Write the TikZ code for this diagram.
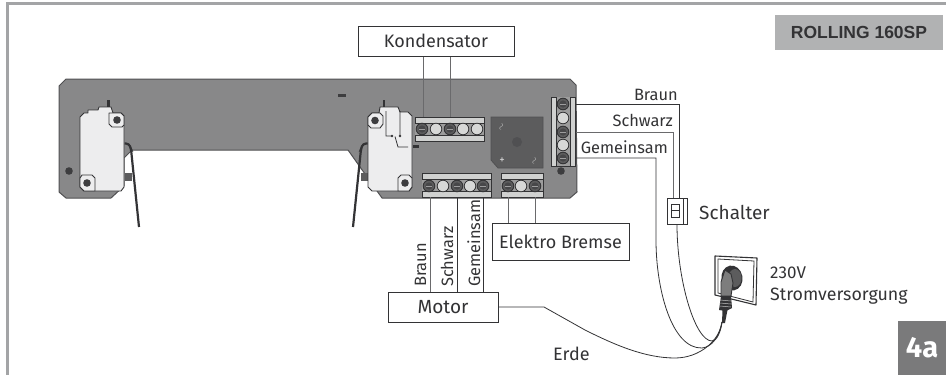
\documentclass[tikz,border=0pt]{standalone}
\usepackage{fontspec}
\setmainfont{Fira Sans}
\newfontfamily\badgefont{Liberation Sans}
\definecolor{frame}{HTML}{A3A4A6}
\definecolor{board}{HTML}{888889}
\definecolor{edge}{HTML}{505052}
\definecolor{swbody}{HTML}{EDEDEE}
\definecolor{strip}{HTML}{D0D1D0}
\definecolor{darkblk}{HTML}{5C5C5D}
\definecolor{ink}{HTML}{333335}
\tikzset{
  wire/.style={draw=ink,line width=0.8pt},
  graywire/.style={draw=edge!85,line width=1pt},
  labelbox/.style={draw=ink,line width=1pt,fill=white,inner sep=0pt,text=ink,font=\fontsize{18}{18}\selectfont},
  txt/.style={text=ink,inner sep=0pt,font=\fontsize{16.4}{17}\selectfont},
  hole/.style={fill=ink!95,draw=none},
  swpart/.style={fill=swbody,draw=ink,line width=0.9pt,line join=round},
}
\newcommand{\termbody}[4]{%
  \fill[strip,draw=ink,line width=0.6pt] (#1,#2) rectangle (#3,#4);
  \fill[darkblk!45!strip] (#1,#2+6) rectangle (#3,#4-6);
  \draw[ink,line width=0.8pt] (#1,#2+6) -- (#3,#2+6) (#1,#4-6) -- (#3,#4-6);
}
\newcommand{\darkscrew}[2]{%
  \fill[darkblk,draw=ink,line width=0.9pt] (#1,#2) circle (5.8);
  \fill[ink!90] (#1,#2) circle (3.6);
  \draw[darkblk!60!white,line width=0.4pt] (#1-3,#2) -- (#1+3,#2);
}
\newcommand{\lightscrew}[2]{%
  \fill[strip!85,draw=ink,line width=0.8pt] (#1,#2) circle (5.8);
}
\begin{document}
\begin{tikzpicture}[x=1pt,y=-1pt,line cap=butt]
\useasboundingbox (0,0) rectangle (946,375);
% frame
\draw[frame,line width=3pt] (7,375) -- (7,3.2) -- (946,3.2);
% board
\fill[board,draw=edge,line width=1pt,line join=round]
  (66,79) -- (570,79) -- (576,85) -- (577,192) -- (570,198) -- (382,198) -- (348,150)
  -- (132,150) -- (124,158) -- (124,186) -- (111,198) -- (66,198) -- (59,192) -- (59,86) -- cycle;
\fill[hole] (338,94) rectangle (346,97);
\fill[hole] (69,171) circle (3.8);
\fill[hole] (561,171) circle (3.8);
% switch 1
\fill[ink] (107,100) rectangle (109.5,107);
\fill[ink!80] (125,173) rectangle (132,181);
\draw[swpart] (84,113) -- (88,113) -- (88,110) -- (98,110) -- (99,107) -- (111,107) -- (113,113)
  -- (121,113) -- (124,116) -- (124,187) -- (121,191) -- (84,191) -- (80,187) -- (80,117) -- cycle;
\draw[swpart] (109,113) -- (121,113) -- (124,116) -- (124,125) -- (122,127) -- (112,127) -- (109,124) -- cycle;
\draw[swpart] (80,178) -- (82,175) -- (92,175) -- (95,178) -- (95,191) -- (84,191) -- (80,187) -- cycle;
\fill[hole] (117,120) circle (3.8);
\fill[hole] (87,183) circle (3.8);
\draw[ink,line width=2.2pt,rounded corners=3pt] (124.5,143.5) -- (129,143.5) -- (131,149) -- (139,227);
% switch 2
\fill[ink] (382.5,100) rectangle (385,107);
\fill[ink!80] (361,173) rectangle (368,181);
\fill[ink] (413,145) rectangle (419,148);
\draw[swpart] (372,113) -- (379,113) -- (380,107) -- (398,107) -- (400,112) -- (408,112) -- (412,116)
  -- (412,187) -- (409,191) -- (372,191) -- (368,187) -- (368,117) -- cycle;
\draw[swpart] (372,113) -- (380,113) -- (383,116) -- (383,124) -- (380,128) -- (371,128) -- (368,125) -- (368,117) -- cycle;
\draw[swpart] (398,178) -- (401,175) -- (409,175) -- (412,178) -- (412,187) -- (409,191) -- (398,191) -- cycle;
\fill[hole] (375,120.5) circle (3.8);
\fill[hole] (405,183) circle (3.8);
\draw[ink,line width=0.8pt] (386,111) -- (386,136) -- (392,136) (400,111) -- (400,136)
  (395,136.5) -- (398,147) -- (408,147);
\fill[ink] (392,136) circle (1.3) (400,136) circle (1.3);
\draw[ink,line width=2.2pt,rounded corners=3pt] (367.5,143.5) -- (363,143.5) -- (361,149) -- (353,227);
% rectifier
\fill[darkblk,draw=edge,line width=0.8pt] (491,117) -- (543,117) -- (543,168) -- (498,168) -- (491,160) -- cycle;
\fill[edge] (517,142) circle (5);
\node[text=ink!30,inner sep=0pt,font=\fontsize{10}{10}\selectfont] (acOne) at (502,127) {\rotatebox{70}{$\sim$}};
\node[text=ink!20,inner sep=0pt,font=\fontsize{11}{11}\selectfont] (plus) at (502,161) {+};
\node[text=ink!30,inner sep=0pt,font=\fontsize{10}{10}\selectfont] (acTwo) at (535,161) {\rotatebox{70}{$\sim$}};
% terminal top
\termbody{415}{117}{484}{141}
\darkscrew{422}{129}\lightscrew{436}{129}\darkscrew{450}{129}\lightscrew{463}{129}\lightscrew{477}{129}
% terminal motor
\termbody{422}{173}{491}{197}
\darkscrew{429}{186}\lightscrew{443}{186}\darkscrew{457}{186}\lightscrew{470}{186}\darkscrew{483}{186}
% terminal brake
\termbody{501}{173}{543}{197}
\darkscrew{508}{186}\lightscrew{521}{186}\darkscrew{535}{186}
% vertical terminal
\fill[strip,draw=ink,line width=0.6pt] (551.5,97) rectangle (575.5,166);
\fill[darkblk!45!strip] (556.5,97) rectangle (570.5,166);
\draw[ink,line width=0.8pt] (556.5,97) -- (556.5,166) (570.5,97) -- (570.5,166);
\darkscrew{563}{104}\lightscrew{563}{118}\darkscrew{563}{132}\lightscrew{563}{145}\darkscrew{563}{158}
% badges
\node[fill=frame!85!white,minimum width=168pt,minimum height=35pt,inner sep=0pt,text=ink,font=\badgefont\fontsize{17.5}{18}\selectfont\bfseries] (model) at (859,32.5) {ROLLING 160SP};
\node[fill=board!90!black,minimum width=48pt,minimum height=54pt,inner sep=0pt,text=white,font=\fontsize{29}{29}\selectfont\bfseries] (sheet) at (922,348) {4a};
% boxes
\node[labelbox,minimum width=156pt,minimum height=30pt] (cap) at (436,41) {Kondensator};
\node[labelbox,minimum width=137pt,minimum height=37pt] (brake) at (560.5,241.5) {Elektro Bremse};
\node[labelbox,minimum width=110pt,minimum height=30pt,font=\fontsize{19}{19}\selectfont] (motor) at (443,307) {Motor};
% wire anchors
\coordinate (tA) at (423,117); \coordinate (tB) at (450,117);
\coordinate (mA) at (430,197); \coordinate (mB) at (457,197); \coordinate (mC) at (483,197);
\coordinate (bA) at (508,197); \coordinate (bB) at (535,197);
\coordinate (rA) at (576,104); \coordinate (rB) at (576,132); \coordinate (rC) at (576,158);
\coordinate (plugEnd) at (722,322);
% switch
\node[draw=ink,line width=0.9pt,fill=white,minimum width=20pt,minimum height=26pt,inner sep=0pt] (schalter) at (677,211) {};
\draw[ink,line width=0.7pt] (683,198) -- (683,224);
\draw[ink,line width=1pt,fill=white] (671,204) rectangle (679,217);
\draw[ink,line width=0.7pt] (671,210) -- (679,210);
% wires
\draw[graywire] (tA) -- (tA |- cap.south);
\draw[graywire] (tB) -- (tB |- cap.south);
\draw[graywire] (mA) -- (mA |- motor.north);
\draw[wire] (mB) -- (mB |- motor.north);
\draw[wire,line width=1pt] (mC) -- (mC |- motor.north);
\draw[graywire] (bA) -- (bA |- brake.north);
\draw[graywire] (bB) -- (bB |- brake.north);
\draw[wire] (rA) -- (679,104) -- (679,198);
\draw[graywire] (rB) -- (673,132) -- (673,198);
\draw[wire] (rC) -- (656,158) -- (656,240)
  .. controls (656,290) and (672,349) .. (702,348) .. controls (712,347) and (719,337) .. (plugEnd);
\draw[wire] (schalter.south) .. controls (677,280) and (695,341) .. (712,341) .. controls (717,341) and (721,331) .. (plugEnd);
\draw[wire] (motor.east) -- (544,307) -- (585,330) .. controls (615,345) and (645,358) .. (675,358)
  .. controls (700,358) and (720,340) .. (plugEnd);
% socket
\draw[ink,line width=1.1pt,fill=white,line join=round] (715,256) -- (757,258) -- (756,305) -- (715,295) -- cycle;
\draw[ink,line width=0.8pt] (718,259) -- (754,261) -- (753,302) -- (718,293) -- cycle;
\fill[ink,rotate around={10:(732,278)}] (732,278) ellipse (10.5 and 12.5);
\fill[darkblk] (735,278) ellipse (6.5 and 9);
\fill[darkblk!80,draw=ink,line width=0.9pt,line join=round] (721,282) -- (725,270) -- (731,274) -- (733,283) -- (731,296) -- (721,296) -- cycle;
\fill[ink] (721,296) -- (731,296) -- (732,308) -- (726,311) -- (719,310) -- cycle;
\draw[white!70!ink,line width=0.5pt] (720,300) -- (731,301) (720,303) -- (731,304) (720,306) -- (731,307);
\fill[ink] (722.5,310) -- (727.5,310) -- (725,323) -- (722,323) -- cycle;
% labels
\node[txt,anchor=base east] (lBraun) at (678,100) {Braun};
\node[txt,anchor=base east] (lSchwarz) at (673,126) {Schwarz};
\node[txt,anchor=base east] (lGem) at (668,153) {Gemeinsam};
\node[txt,anchor=base west,rotate=90] (vBraun) at (426,287) {Braun};
\node[txt,anchor=base west,rotate=90] (vSchwarz) at (453,287) {Schwarz};
\node[txt,anchor=base west,rotate=90] (vGem) at (480,287) {Gemeinsam};
\node[txt,anchor=west,font=\fontsize{19}{19}\selectfont] (lSchalter) at (699,212) {Schalter};
\node[txt,anchor=base west,font=\fontsize{17}{17}\selectfont] (l230) at (770,278) {230V};
\node[txt,anchor=base west,font=\fontsize{17.8}{18}\selectfont] (lStrom) at (770,300) {Stromversorgung};
\node[txt,anchor=base west,font=\fontsize{18}{18}\selectfont] (lErde) at (553,360) {Erde};
\end{tikzpicture}
\end{document}
